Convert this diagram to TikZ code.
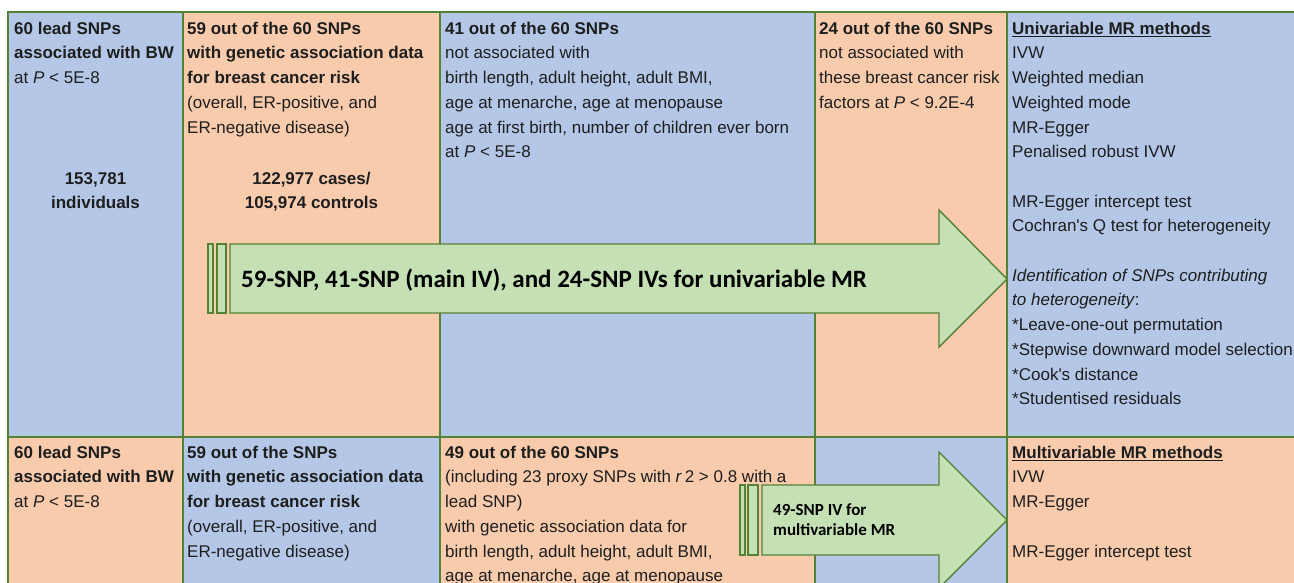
\documentclass[tikz,border=0pt]{standalone}
\usepackage{fontspec}
\setmainfont{Liberation Sans}
\newfontfamily\calfont{Carlito}
\definecolor{cblue}{RGB}{180,199,231}
\definecolor{corange}{RGB}{248,203,173}
\definecolor{cgreen}{RGB}{197,224,180}
\definecolor{gline}{RGB}{84,130,53}
\definecolor{textc}{RGB}{30,30,30}
\newcommand{\myrule}{\rule{0pt}{13pt}}
\newcommand{\myrules}{\rule{0pt}{12pt}}
\tikzset{
  grid/.style={draw=gline, line width=2.6pt},
  arrowshape/.style={fill=cgreen, draw=gline, line width=1.4pt, line join=miter},
  txt/.style={anchor=north west, inner sep=0pt, align=left, text=textc,
    font=\fontsize{17}{24.7}\selectfont},
  ctxt/.style={anchor=north, inner sep=0pt, align=center, text=textc,
    font=\bfseries\fontsize{17}{24.7}\selectfont},
  bigarrowtxt/.style={anchor=base west, inner sep=0pt, text=black,
    font=\calfont\bfseries\fontsize{25}{28}\selectfont},
  smallarrowtxt/.style={anchor=north west, inner sep=0pt, align=left, text=black,
    font=\calfont\bfseries\fontsize{17}{20}\selectfont},
}
\begin{document}
\begin{tikzpicture}[x=1pt,y=-1pt]
\useasboundingbox (0,0) rectangle (1294,582);
\clip (0,0) rectangle (1294,582);
% cell fills, top row
\fill[cblue]   (8,12) rectangle (183,437);
\fill[corange] (183,12) rectangle (440,437);
\fill[cblue]   (440,12) rectangle (815,437);
\fill[corange] (815,12) rectangle (1007,437);
\fill[cblue]   (1007,12) rectangle (1310,437);
% bottom row
\fill[corange] (8,437) rectangle (183,600);
\fill[cblue]   (183,437) rectangle (440,600);
\fill[corange] (440,437) rectangle (815,600);
\fill[cblue]   (815,437) rectangle (1007,600);
\fill[corange] (1007,437) rectangle (1310,600);
% grid
\draw[grid] (8,600) -- (8,12) -- (1310,12);
\draw[grid] (8,437) -- (1310,437);
\foreach \xx in {183,440,815,1007} \draw[grid] (\xx,12) -- (\xx,600);

% top row texts
\node[txt] (t1) at (14,21) {\myrule\textbf{60 lead SNPs}\\\textbf{associated with BW}\\at \textit{P} < 5E-8};
\node[ctxt] (t1n) at (95.5,171) {\myrule 153,781\\individuals};
\node[txt] (t2) at (187,21) {\myrule\textbf{59 out of the 60 SNPs}\\\textbf{with genetic association data}\\\textbf{for breast cancer risk}\\(overall, ER-positive, and\\ER-negative disease)};
\node[ctxt] (t2n) at (311.5,171) {\myrule 122,977 cases/\\105,974 controls};
\node[txt] (t3) at (445,21) {\myrule\textbf{41 out of the 60 SNPs}\\not associated with\\birth length, adult height, adult BMI,\\age at menarche, age at menopause\\age at first birth, number of children ever born\\at \textit{P} < 5E-8};
\node[txt] (t4) at (819,21) {\myrule\textbf{24 out of the 60 SNPs}\\not associated with\\these breast cancer risk\\factors at \textit{P} < 9.2E-4};
\node[txt] (t5) at (1012,21) {\myrule\underline{\textbf{Univariable MR methods}}\\IVW\\Weighted median\\Weighted mode\\MR-Egger\\Penalised robust IVW\\\mbox{}\\MR-Egger intercept test\\Cochran\textquotesingle s Q test for heterogeneity\\\mbox{}\\\textit{Identification of SNPs contributing}\\\textit{to heterogeneity}:\\*Leave-one-out permutation\\*Stepwise downward model selection\\*Cook\textquotesingle s distance\\*Studentised residuals};

% bottom row texts
\node[txt] (b1) at (14,445) {\myrule\textbf{60 lead SNPs}\\\textbf{associated with BW}\\at \textit{P} < 5E-8};
\node[txt] (b2) at (187,445) {\myrule\textbf{59 out of the SNPs}\\\textbf{with genetic association data}\\\textbf{for breast cancer risk}\\(overall, ER-positive, and\\ER-negative disease)};
\node[txt] (b3) at (445,445) {\myrule\textbf{49 out of the 60 SNPs}\\(including 23 proxy SNPs with \textit{r}\,2 > 0.8 with a\\lead SNP)\\with genetic association data for\\birth length, adult height, adult BMI,\\age at menarche, age at menopause};
\node[txt] (b5) at (1012,445) {\myrule\underline{\textbf{Multivariable MR methods}}\\IVW\\MR-Egger\\\mbox{}\\MR-Egger intercept test};

% big arrow (top)
\draw[arrowshape] (208,244) rectangle (213,313);
\draw[arrowshape] (217,244) rectangle (226,313);
\draw[arrowshape] (230,244) -- (939,244) -- (939,210) -- (1007,279) -- (939,347) -- (939,313) -- (230,313) -- cycle;
\node[bigarrowtxt] (a1) at (241,287) {59-SNP, 41-SNP (main IV), and 24-SNP IVs for univariable MR};

% small arrow (bottom)
\draw[arrowshape] (740,485) rectangle (745,555);
\draw[arrowshape] (748,485) rectangle (758,555);
\draw[arrowshape] (762,485) -- (939,485) -- (939,452) -- (1007,520) -- (939,588) -- (939,555) -- (762,555) -- cycle;
\node[smallarrowtxt] (a2) at (773,503) {\myrules 49-SNP IV for\\multivariable MR};
\end{tikzpicture}
\end{document}
